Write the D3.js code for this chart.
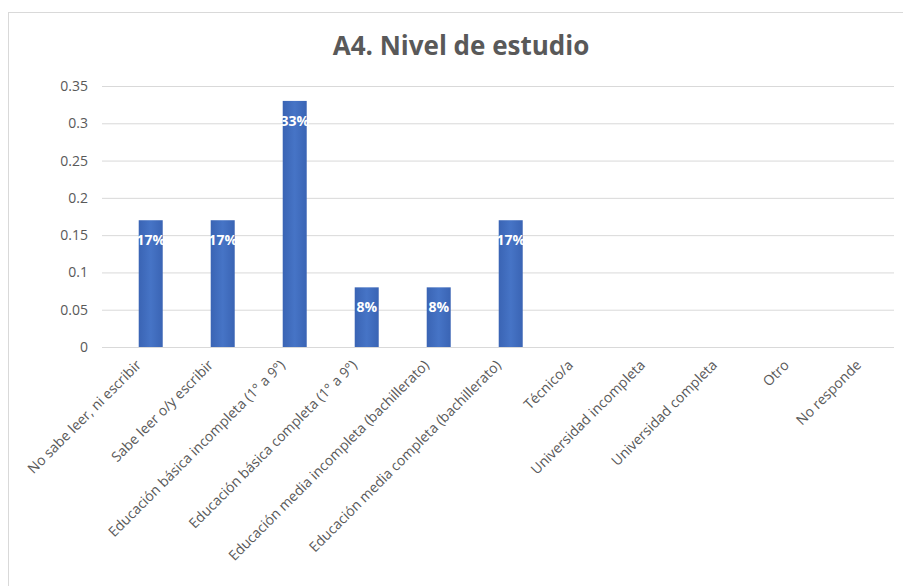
<!DOCTYPE html>
<html>
	<head>
		<meta charset="utf-8"/>
		<title>A4. Nivel de estudio</title>
		<script src="https://d3js.org/d3.v7.min.js"></script>
	</head>
	<style>
	body{
		margin:0;
		background:#fff;
	}
	#well svg{
		display:block;
		font-family:"Open Sans", sans-serif;
	}
	</style>
	<body>
	<div id='well'></div>
	<script>
		var categories = [
			"No sabe leer, ni escribir",
			"Sabe leer o/y escribir",
			"Educación básica incompleta (1° a 9°)",
			"Educación básica completa (1° a 9°)",
			"Educación media incompleta (bachillerato)",
			"Educación media completa (bachillerato)",
			"Técnico/a",
			"Universidad incompleta",
			"Universidad completa",
			"Otro",
			"No responde"
		];
		var values = [0.17, 0.17, 0.33, 0.08, 0.08, 0.17, 0, 0, 0, 0, 0];
		var yTicks = [0, 0.05, 0.1, 0.15, 0.2, 0.25, 0.3, 0.35];
		var title = "A4. Nivel de estudio";

		var width = 903;
		var height = 586;

		var x = d3.scaleBand()
			.domain(categories)
			.range([102, 894]);

		var y = d3.scaleLinear()
			.domain([0, 0.35])
			.range([347, 86]);

		var pct = d3.format(".0%");

		var chart = d3.select('#well')
			.append('svg')
			.attr('width', width)
			.attr('height', height);

		// frame
		chart.append('rect')
			.attr('x', 8.5)
			.attr('y', 12.5)
			.attr('width', 905)
			.attr('height', 590)
			.attr('fill', '#fff')
			.attr('stroke', '#d9d9d9');

		chart.append('text')
			.attr('x', 461)
			.attr('y', 55)
			.attr('text-anchor', 'middle')
			.attr('font-size', 26)
			.attr('font-weight', 700)
			.attr('fill', '#595959')
			.text(title);

		// gradient to imitate the office bar fill
		var grad = chart.append('defs').append('linearGradient')
			.attr('id', 'barfill')
			.attr('x1', '0').attr('x2', '1').attr('y1', '0').attr('y2', '0');
		grad.append('stop').attr('offset', '0').attr('stop-color', '#3a64b4');
		grad.append('stop').attr('offset', '0.5').attr('stop-color', '#4674c6');
		grad.append('stop').attr('offset', '1').attr('stop-color', '#3a64b4');

		var yAxis = d3.axisLeft(y)
			.tickValues(yTicks)
			.tickSize(-(894 - 102))
			.tickPadding(14)
			.tickFormat(function(d){ return d === 0 ? "0" : String(+d.toFixed(2)); });

		var yg = chart.append('g')
			.attr('transform', 'translate(102,0)')
			.call(yAxis);
		yg.select('.domain').remove();
		yg.selectAll('.tick line')
			.attr('stroke', '#d9d9d9');
		yg.selectAll('.tick text')
			.attr('fill', '#595959')
			.attr('font-size', 14)
			.attr('font-family', '"Open Sans", sans-serif');

		var bw = x.bandwidth() / 3;

		chart.append('g')
			.selectAll('rect')
			.data(values)
			.enter()
			.append('rect')
			.attr('x', function(d, i){ return x(categories[i]) + x.bandwidth() * 0.51; })
			.attr('y', function(d){ return y(d); })
			.attr('width', bw)
			.attr('height', function(d){ return y(0) - y(d); })
			.attr('fill', 'url(#barfill)');

		chart.append('g')
			.selectAll('text')
			.data(values.filter(function(d){ return d > 0; }))
			.enter()
			.append('text')
			.attr('x', function(d, i){ return x(categories[i]) + x.bandwidth() * 0.51 + bw / 2; })
			.attr('y', function(d){ return y(d) + 25; })
			.attr('text-anchor', 'middle')
			.attr('font-size', 14)
			.attr('font-weight', 700)
			.attr('fill', '#fff')
			.text(function(d){ return pct(d); });

		chart.append('g')
			.selectAll('text')
			.data(categories)
			.enter()
			.append('text')
			.attr('transform', function(d){ return 'translate(' + (x(d) + 40) + ',366) rotate(-45)'; })
			.attr('text-anchor', 'end')
			.attr('font-size', 14)
			.attr('fill', '#595959')
			.text(function(d){ return d; });
	</script>
	</body>
</html>
